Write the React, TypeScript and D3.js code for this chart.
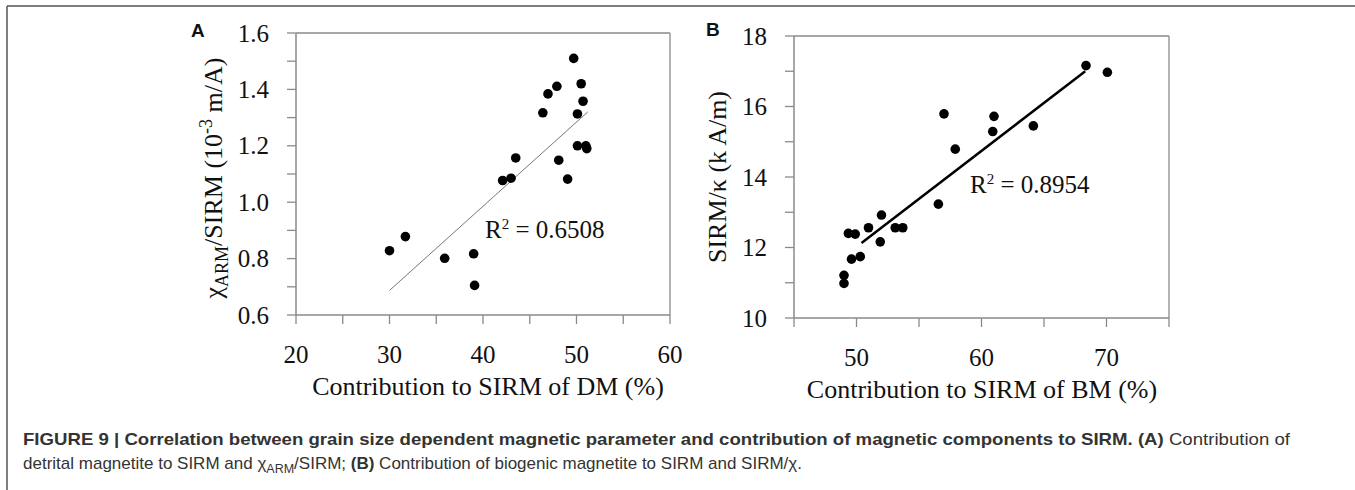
import React from "react";
import * as d3 from "d3";

// Panel A: contribution to SIRM of DM (%) vs χARM/SIRM
const aDM = [49.7, 50.5, 50.7, 50.1, 47.9, 46.95, 46.4, 50.1, 51.0, 51.1, 43.5, 48.1, 49.05, 43.0, 42.1, 30.0, 31.7, 35.9, 39.0, 39.1];
const aRatio = [1.51, 1.42, 1.358, 1.313, 1.411, 1.384, 1.317, 1.2, 1.2, 1.19, 1.157, 1.149, 1.082, 1.085, 1.077, 0.828, 0.878, 0.801, 0.817, 0.705];
const aFitX = [30, 51.2];
const aFitY = [0.687, 1.32];
const aXTicks = [20, 25, 30, 35, 40, 45, 50, 55, 60];
const aXLabels = [20, 30, 40, 50, 60];
const aYTicks = [0.6, 0.7, 0.8, 0.9, 1.0, 1.1, 1.2, 1.3, 1.4, 1.5, 1.6];
const aYLabels = [0.6, 0.8, 1.0, 1.2, 1.4, 1.6];

// Panel B: contribution to SIRM of BM (%) vs SIRM/κ
const bBM = [68.36, 70.07, 57.0, 61.0, 60.9, 64.15, 57.9, 56.55, 52.0, 50.96, 53.1, 53.7, 49.35, 49.9, 51.9, 49.6, 50.3, 49.0, 49.0];
const bRatio = [17.16, 16.97, 15.79, 15.72, 15.29, 15.45, 14.79, 13.23, 12.92, 12.56, 12.56, 12.56, 12.4, 12.38, 12.16, 11.67, 11.74, 11.21, 10.98];
const bFitX = [50.4, 68.3];
const bFitY = [12.13, 17.0];
const bXTicks = [45, 50, 55, 60, 65, 70, 75];
const bXLabels = [50, 60, 70];
const bYTicks = [10, 11, 12, 13, 14, 15, 16, 17, 18];
const bYLabels = [10, 12, 14, 16, 18];

const SERIF = "'Liberation Serif', 'Times New Roman', serif";
const SANS = "'Liberation Sans', Arial, sans-serif";
const AXIS = "#8a8a8a";

type PanelProps = {
  xs: number[]; ys: number[]; fitX: number[]; fitY: number[];
  xDom: [number, number]; yDom: [number, number];
  xRange: [number, number]; yRange: [number, number];
  xTicks: number[]; xLabels: number[]; yTicks: number[]; yLabels: number[];
  yFmt: (v: number) => string;
  fitColor: string; fitWidth: number;
};

function Panel(p: PanelProps) {
  const x = d3.scaleLinear().domain(p.xDom).range(p.xRange);
  const y = d3.scaleLinear().domain(p.yDom).range(p.yRange);
  const [x0, x1] = p.xRange;
  const [yb, yt] = p.yRange;
  const line = d3.line<number>().x((d, i) => x(p.fitX[i])).y((d, i) => y(p.fitY[i]));
  return (
    <g>
      <line x1={x0} x2={x1} y1={yt} y2={yt} stroke={AXIS} strokeWidth={1.3} />
      <line x1={x1} x2={x1} y1={yt} y2={yb} stroke={AXIS} strokeWidth={1.3} />
      <line x1={x0} x2={x1} y1={yb} y2={yb} stroke={AXIS} strokeWidth={1.5} />
      <line x1={x0} x2={x0} y1={yt} y2={yb} stroke={AXIS} strokeWidth={1.5} />
      {p.xTicks.map((t) => (
        <line key={"xt" + t} x1={x(t)} x2={x(t)} y1={yb} y2={yb + 9} stroke={AXIS} strokeWidth={1.3} />
      ))}
      {p.yTicks.map((t) => (
        <line key={"yt" + t} x1={x0 - 9} x2={x0} y1={y(t)} y2={y(t)} stroke={AXIS} strokeWidth={1.3} />
      ))}
      {p.xLabels.map((t) => (
        <text key={"xl" + t} x={x(t)} y={yb + 48} textAnchor="middle" fontFamily={SERIF} fontSize={25} fill="#111">{t}</text>
      ))}
      {p.yLabels.map((t) => (
        <text key={"yl" + t} x={x0 - 27} y={y(t) + 8.5} textAnchor="end" fontFamily={SERIF} fontSize={25} fill="#111">{p.yFmt(t)}</text>
      ))}
      <path d={line(p.fitX) || ""} fill="none" stroke={p.fitColor} strokeWidth={p.fitWidth} />
      {p.xs.map((v, i) => (
        <circle key={"pt" + i} cx={x(v)} cy={y(p.ys[i])} r={4.8} fill="#000" />
      ))}
    </g>
  );
}

export default function App() {
  return (
    <svg width={1355} height={490} style={{ position: "absolute", left: 0, top: 0, background: "#fff" }}>
      <rect x={0} y={0} width={1355} height={490} fill="#fff" />
      <line x1={7} x2={1355} y1={6} y2={6} stroke="#555" strokeWidth={1.5} />
      <line x1={7} x2={7} y1={6} y2={490} stroke="#555" strokeWidth={1.5} />

      <Panel xs={aDM} ys={aRatio} fitX={aFitX} fitY={aFitY}
        xDom={[20, 60]} yDom={[0.6, 1.6]} xRange={[296, 670]} yRange={[315, 33]}
        xTicks={aXTicks} xLabels={aXLabels} yTicks={aYTicks} yLabels={aYLabels}
        yFmt={(v) => v.toFixed(1)} fitColor="#777" fitWidth={1} />
      <Panel xs={bBM} ys={bRatio} fitX={bFitX} fitY={bFitY}
        xDom={[45, 75]} yDom={[10, 18]} xRange={[794, 1169]} yRange={[318, 36]}
        xTicks={bXTicks} xLabels={bXLabels} yTicks={bYTicks} yLabels={bYLabels}
        yFmt={(v) => String(v)} fitColor="#000" fitWidth={2.5} />

      <text x={191} y={37} fontFamily={SANS} fontWeight="bold" fontSize={19} fill="#111">A</text>
      <text x={706} y={36} fontFamily={SANS} fontWeight="bold" fontSize={19} fill="#111">B</text>

      <text x={485} y={238} fontFamily={SERIF} fontSize={25} fill="#111">R<tspan fontSize={15} dy={-9}>2</tspan><tspan dy={9}> = 0.6508</tspan></text>
      <text x={970} y={193} fontFamily={SERIF} fontSize={25} fill="#111">R<tspan fontSize={15} dy={-9}>2</tspan><tspan dy={9}> = 0.8954</tspan></text>

      <text x={488} y={395} textAnchor="middle" fontFamily={SERIF} fontSize={26} fill="#111">Contribution to SIRM of DM (%)</text>
      <text x={982} y={398} textAnchor="middle" fontFamily={SERIF} fontSize={26} fill="#111">Contribution to SIRM of BM (%)</text>
      <text transform="translate(222,178) rotate(-90)" textAnchor="middle" fontFamily={SERIF} fontSize={26} fill="#111">
        χ<tspan fontSize={18} dy={6}>ARM</tspan><tspan dy={-6}>/SIRM (10</tspan><tspan fontSize={18} dy={-10}>-3</tspan><tspan dy={10}> m/A)</tspan>
      </text>
      <text transform="translate(726,177) rotate(-90)" textAnchor="middle" fontFamily={SERIF} fontSize={26} fill="#111">SIRM/κ (k A/m)</text>

      <text x={23} y={445} fontFamily={SANS} fontSize={17} fill="#333" textLength={1267} lengthAdjust="spacingAndGlyphs">
        <tspan fontWeight="bold">FIGURE 9 | Correlation between grain size dependent magnetic parameter and contribution of magnetic components to SIRM. (A)</tspan>
        <tspan> Contribution of</tspan>
      </text>
      <text x={23} y={469} fontFamily={SANS} fontSize={17} fill="#333" textLength={779} lengthAdjust="spacingAndGlyphs">
        detrital magnetite to SIRM and χ<tspan fontSize={12.5} dy={4}>ARM</tspan><tspan dy={-4}>/SIRM; </tspan><tspan fontWeight="bold">(B)</tspan> Contribution of biogenic magnetite to SIRM and SIRM/χ.
      </text>
    </svg>
  );
}
